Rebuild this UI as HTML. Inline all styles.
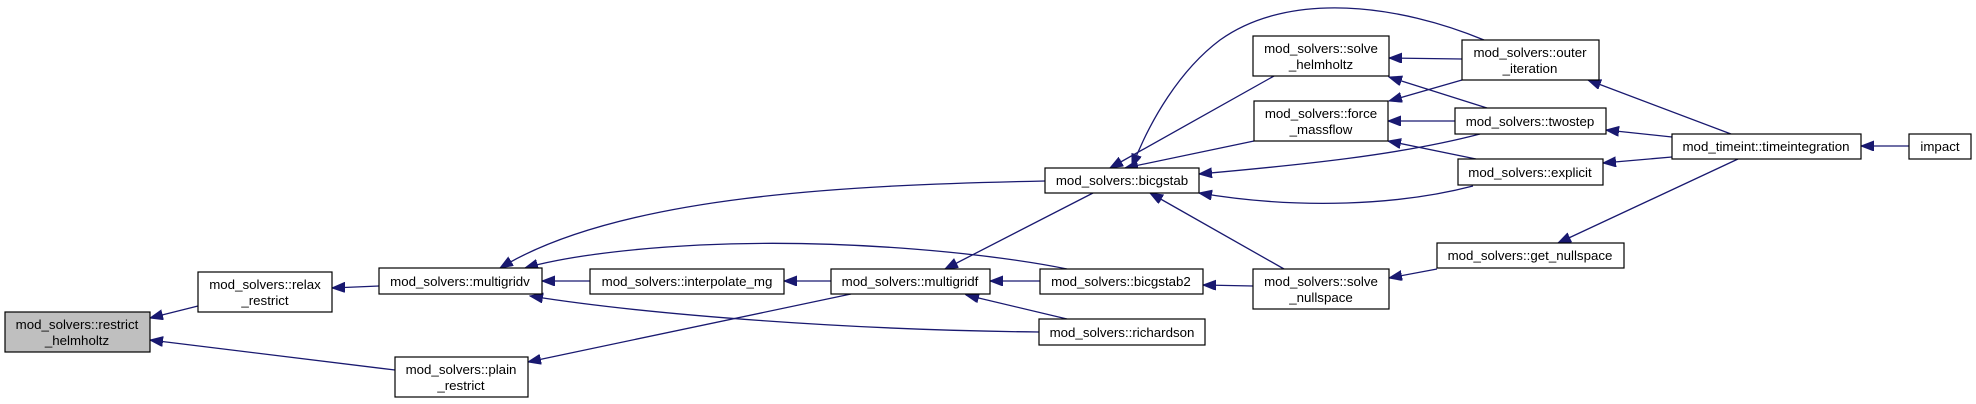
<!DOCTYPE html>
<html><head><meta charset="utf-8"><style>
html,body{margin:0;padding:0;background:#fff;}
svg{display:block;}
text{font-family:"Liberation Sans",Arial,sans-serif;font-size:13.3px;fill:#000;text-anchor:middle;}
.n{fill:#fff;stroke:#000;stroke-width:1.2;}
.e{fill:none;stroke:#191970;stroke-width:1.3;}
</style></head><body>
<svg width="1976" height="404" viewBox="0 0 1976 404" xmlns="http://www.w3.org/2000/svg">
<defs>
<marker id="a" markerUnits="userSpaceOnUse" markerWidth="14" markerHeight="12" refX="13" refY="5" orient="auto">
<path d="M0,0 L13,5 L0,10 Z" fill="#191970" stroke="#191970"/>
</marker>
</defs>
<g marker-end="url(#a)">
<path class="e" d="M198,306 L150,318"/>
<path class="e" d="M395,370 L150,340"/>
<path class="e" d="M379,286 L332,288"/>
<path class="e" d="M590,281 L542,281"/>
<path class="e" d="M831,281 L784,281"/>
<path class="e" d="M851,294 L528,362"/>
<path class="e" d="M1045,181 C850,185 620,195 500,268"/>
<path class="e" d="M1067,269 C1000,255 850,238 700,245 C620,249 560,258 525,268"/>
<path class="e" d="M1039,332 C850,330 650,315 530,296"/>
<path class="e" d="M1093,193 L945,269"/>
<path class="e" d="M1040,281 L990,281"/>
<path class="e" d="M1067,319 L966,295"/>
<path class="e" d="M1274,76 L1110,168"/>
<path class="e" d="M1254,141 L1125,168"/>
<path class="e" d="M1480,134 C1400,155 1300,165 1199,174"/>
<path class="e" d="M1473,186 C1400,205 1300,210 1199,193"/>
<path class="e" d="M1484,40 C1400,5 1290,-10 1220,40 C1180,70 1150,120 1132,167"/>
<path class="e" d="M1284,269 L1150,193"/>
<path class="e" d="M1253,286 L1203,285"/>
<path class="e" d="M1462,59 L1389,58"/>
<path class="e" d="M1487,108 L1389,77"/>
<path class="e" d="M1462,80 L1389,101"/>
<path class="e" d="M1455,121 L1388,121"/>
<path class="e" d="M1476,159 L1388,141"/>
<path class="e" d="M1731,134 L1588,80"/>
<path class="e" d="M1672,137 L1606,130"/>
<path class="e" d="M1672,157 L1603,163"/>
<path class="e" d="M1738,159 L1558,243"/>
<path class="e" d="M1437,269 L1389,278"/>
<path class="e" d="M1909,146 L1861,146"/>
</g>
<rect x="5" y="312" width="145" height="40" fill="#bfbfbf" stroke="#000" stroke-width="1.2"/>
<text x="77" y="329">mod_solvers::restrict</text><text x="77" y="345">_helmholtz</text>
<rect class="n" x="198" y="272" width="134" height="40"/>
<text x="265" y="289">mod_solvers::relax</text><text x="265" y="305">_restrict</text>
<rect class="n" x="379" y="268" width="163" height="26"/>
<text x="460" y="286">mod_solvers::multigridv</text>
<rect class="n" x="395" y="357" width="133" height="40"/>
<text x="461" y="374">mod_solvers::plain</text><text x="461" y="390">_restrict</text>
<rect class="n" x="590" y="269" width="194" height="25"/>
<text x="687" y="286">mod_solvers::interpolate_mg</text>
<rect class="n" x="831" y="269" width="159" height="25"/>
<text x="910" y="286">mod_solvers::multigridf</text>
<rect class="n" x="1045" y="168" width="154" height="25"/>
<text x="1122" y="185">mod_solvers::bicgstab</text>
<rect class="n" x="1040" y="269" width="163" height="25"/>
<text x="1121" y="286">mod_solvers::bicgstab2</text>
<rect class="n" x="1039" y="319" width="166" height="26"/>
<text x="1122" y="337">mod_solvers::richardson</text>
<rect class="n" x="1253" y="36" width="136" height="40"/>
<text x="1321" y="53">mod_solvers::solve</text><text x="1321" y="69">_helmholtz</text>
<rect class="n" x="1254" y="101" width="134" height="40"/>
<text x="1321" y="118">mod_solvers::force</text><text x="1321" y="134">_massflow</text>
<rect class="n" x="1253" y="269" width="136" height="40"/>
<text x="1321" y="286">mod_solvers::solve</text><text x="1321" y="302">_nullspace</text>
<rect class="n" x="1462" y="40" width="137" height="40"/>
<text x="1530" y="57">mod_solvers::outer</text><text x="1530" y="73">_iteration</text>
<rect class="n" x="1455" y="108" width="151" height="26"/>
<text x="1530" y="126">mod_solvers::twostep</text>
<rect class="n" x="1458" y="159" width="145" height="26"/>
<text x="1530" y="177">mod_solvers::explicit</text>
<rect class="n" x="1437" y="243" width="187" height="25"/>
<text x="1530" y="260">mod_solvers::get_nullspace</text>
<rect class="n" x="1672" y="134" width="189" height="25"/>
<text x="1766" y="151">mod_timeint::timeintegration</text>
<rect class="n" x="1909" y="134" width="62" height="25"/>
<text x="1940" y="151">impact</text>
</svg>
</body></html>
